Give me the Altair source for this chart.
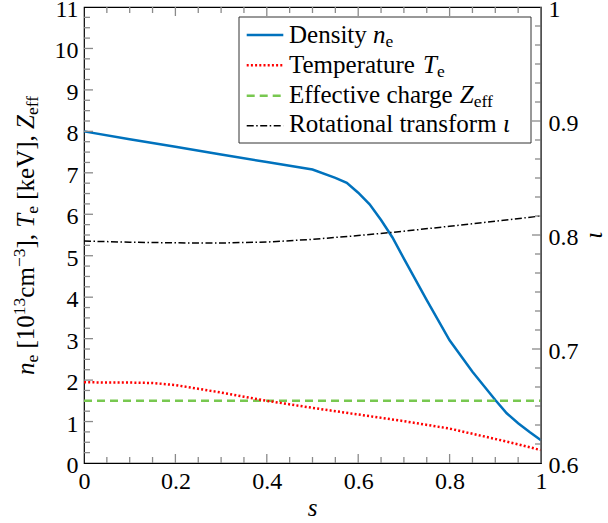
import altair as alt
import pandas as pd

# ---------------- profile data ----------------
s_ne = [0, 0.1, 0.2, 0.3, 0.4, 0.5, 0.55, 0.575, 0.6, 0.625, 0.65, 0.675, 0.7,
        0.75, 0.8, 0.85, 0.9, 0.925, 0.95, 0.975, 1.0]
ne = [8.0, 7.81, 7.63, 7.44, 7.26, 7.08, 6.88, 6.76, 6.52, 6.24, 5.86, 5.44, 4.93,
      3.93, 2.96, 2.2, 1.52, 1.2, 0.96, 0.75, 0.55]

s_te = [0, 0.05, 0.1, 0.15, 0.2, 0.25, 0.3, 0.35, 0.4, 0.5, 0.6, 0.7, 0.8, 0.9, 0.95, 1.0]
te = [1.95, 1.94, 1.94, 1.93, 1.88, 1.79, 1.70, 1.60, 1.50, 1.33, 1.17, 1.01, 0.83, 0.58, 0.45, 0.31]

s_zeff = [0, 1]
zeff = [1.5, 1.5]

s_iota = [0, 0.1, 0.2, 0.3, 0.4, 0.5, 0.6, 0.7, 0.8, 0.9, 1.0]
iota = [0.7947, 0.7937, 0.7931, 0.7930, 0.7938, 0.7962, 0.7995, 0.8033, 0.8077, 0.8121, 0.8167]

# tick positions
x_labels = [0, 0.2, 0.4, 0.6, 0.8, 1]
x_major = [0.2, 0.4, 0.6, 0.8]
x_minor = [k / 20 for k in range(1, 20) if k % 4 != 0]
yl_labels = list(range(12))
yl_major = list(range(1, 11))
yl_minor = [k / 4 for k in range(1, 44) if k % 4 != 0]
yr_labels = [0.6, 0.7, 0.8, 0.9, 1.0]
yr_major = [0.7, 0.8, 0.9]
yr_minor = [0.6 + k / 60 for k in range(1, 24) if k % 6 != 0]

# ---------------- layout / style ----------------
W, H = 457, 456
FONT = "Liberation Serif"
BIG, SMALL = 25, 17.5
TICK_FS = 24
MAJ, MIN = 9, 6
TICK_COLOR = "#8a8a8a"
BLUE, RED, GREEN = "#0072BD", "#FF0000", "#78C850"

xs = alt.Scale(domain=[0, 1], nice=False, zero=False)
ls = alt.Scale(domain=[0, 11], nice=False, zero=False)
rs = alt.Scale(domain=[0.6, 1.0], nice=False, zero=False)

label_style = dict(ticks=False, domain=False, grid=False, labelFont=FONT,
                   labelFontSize=TICK_FS, labelColor="black", labelFlush=False,
                   labelOverlap=False, title=None)

# one axis definition per scale, shared by every layer that uses the scale
x_axis = alt.Axis(values=x_labels, format=".1~f", labelPadding=6, **label_style)
yl_axis = alt.Axis(values=yl_labels, format="d", orient="left", labelPadding=6,
                   labelOffset=2.5, **label_style)
yr_axis = alt.Axis(values=yr_labels, format=".1~f", orient="right", labelPadding=7,
                   labelOffset=2.5, **label_style)

X = alt.X("s:Q", scale=xs, axis=x_axis)
YL = alt.Y("v:Q", scale=ls, axis=yl_axis)
YR = alt.Y("v:Q", scale=rs, axis=yr_axis)


def df(**cols):
    return pd.DataFrame(cols)


def xticks(vals, length):
    d = df(s=vals)
    bottom = alt.Chart(d).mark_rule(color=TICK_COLOR, strokeWidth=1.3).encode(
        x=X, y=alt.value(H), y2=alt.value(H - length))
    top = alt.Chart(d).mark_rule(color=TICK_COLOR, strokeWidth=1.3).encode(
        x=X, y=alt.value(0), y2=alt.value(length))
    return [bottom, top]


def lticks(vals, length):
    return alt.Chart(df(v=vals)).mark_rule(color=TICK_COLOR, strokeWidth=1.3).encode(
        y=YL, x=alt.value(0), x2=alt.value(length))


def rticks(vals, length):
    return alt.Chart(df(v=vals)).mark_rule(color=TICK_COLOR, strokeWidth=1.3).encode(
        y=YR, x=alt.value(W - length), x2=alt.value(W))


# ---------------- left-axis group ----------------
density = alt.Chart(df(s=s_ne, v=ne)).mark_line(color=BLUE, strokeWidth=2.5).encode(x=X, y=YL)
temperature = alt.Chart(df(s=s_te, v=te)).mark_line(
    color=RED, strokeWidth=2.5, strokeDash=[2, 2.2]).encode(x=X, y=YL)
charge = alt.Chart(df(s=s_zeff, v=zeff)).mark_line(
    color=GREEN, strokeWidth=2.5, strokeDash=[8, 5]).encode(x=X, y=YL)

left_group = alt.layer(
    density, *xticks(x_major, MAJ), *xticks(x_minor, MIN),
    lticks(yl_major, MAJ), lticks(yl_minor, MIN),
    charge, temperature)

# ---------------- right-axis group ----------------
rot = alt.Chart(df(s=s_iota, v=iota)).mark_line(
    color="black", strokeWidth=1.5, strokeDash=[7, 2.5, 1.5, 2.5]).encode(x=X, y=YR)
right_group = alt.layer(rot, rticks(yr_major, MAJ), rticks(yr_minor, MIN))

# ---------------- text with math-style pieces ----------------
REG = {' ': .25, '[': .333, ']': .333, ',': .25, '.': .25, '−': .564,
       'c': .444, 'm': .778, 'e': .444, 'k': .5, 'V': .722, 'D': .722, 'n': .5,
       's': .389, 'i': .278, 't': .278, 'y': .5, 'T': .611, 'p': .5, 'r': .333,
       'a': .444, 'u': .5, 'E': .611, 'f': .333, 'v': .5, 'h': .5, 'g': .5,
       'R': .667, 'o': .5, 'l': .278}
ITA = {'n': .5, 'T': .556, 'Z': .556, 's': .389, 'ι': .3}
SHIFT = {"rm": 0, "it": 0, "sub": 4, "sup": -9.5}


def width(txt, style):
    size = SMALL if style in ("sub", "sup") else BIG
    table = ITA if style == "it" else REG
    return sum(table.get(ch, .5) for ch in txt) * size


def place(pieces, x0, y0, vertical=False):
    rows, pos = [], 0.0
    for txt, style in pieces:
        lead = len(txt) - len(txt.lstrip(" "))
        trail = len(txt) - len(txt.rstrip(" "))
        core = txt.strip(" ")
        pos += lead * .25 * BIG
        layer = "sm" if style in ("sub", "sup") else style
        if vertical:
            rows.append(dict(x=x0 + SHIFT[style], y=y0 - pos, t=core, a=270, k=layer))
        else:
            rows.append(dict(x=x0 + pos, y=y0 + SHIFT[style], t=core, a=0, k=layer))
        pos += width(core, style) + trail * .25 * BIG
    return rows


LX = 205
texts = []
texts += place([("Density ", "rm"), ("n", "it"), ("e", "sub")], LX, 36.3)
texts += place([("Temperature ", "rm"), ("T", "it"), ("e", "sub")], LX, 65.7)
texts += place([("Effective charge ", "rm"), ("Z", "it"), ("eff", "sub")], LX, 95.7)
texts += place([("Rotational transform ", "rm"), ("ι", "it")], LX, 124.7)
texts += place([("n", "it"), ("e", "sub"), (" [10", "rm"), ("13", "sup"), ("cm", "rm"),
                ("−3", "sup"), ("], ", "rm"), ("T", "it"), ("e", "sub"),
                (" [keV], ", "rm"), ("Z", "it"), ("eff", "sub")], -50, 368, vertical=True)
texts += place([("s", "it")], W / 2 - width("s", "it") / 2, 509)
texts += place([("ι", "it")], 518, 228 + width("ι", "it") / 2, vertical=True)
text_df = pd.DataFrame(texts)


def text_layer(kind, **mark):
    return alt.Chart(text_df[text_df.k == kind]).mark_text(
        font=FONT, align="left", baseline="alphabetic", color="black", **mark).encode(
        x=alt.X("x:Q", scale=None), y=alt.Y("y:Q", scale=None),
        angle=alt.Angle("a:Q", scale=None), text="t:N")


# legend frame and line samples
legend_box = alt.Chart(df(d=[0])).mark_rect(fill="white", stroke="#333333", strokeWidth=1).encode(
    x=alt.value(155), x2=alt.value(447), y=alt.value(10), y2=alt.value(136))


def sample(yv, **mark):
    return alt.Chart(df(d=[0])).mark_rule(**mark).encode(
        x=alt.value(162.7), x2=alt.value(199.3), y=alt.value(yv), y2=alt.value(yv))


samples = [
    sample(28, color=BLUE, strokeWidth=2.5),
    sample(58.3, color=RED, strokeWidth=2.5, strokeDash=[2, 2.2]),
    sample(88.7, color=GREEN, strokeWidth=2.5, strokeDash=[8, 5]),
    sample(118.7, color="black", strokeWidth=1.5, strokeDash=[7, 2.5, 1.5, 2.5]),
]

right_edge = alt.Chart(df(d=[0])).mark_rule(color="#666666", strokeWidth=1.5).encode(
    x=alt.value(W), y=alt.value(0), y2=alt.value(H))

ann_group = alt.layer(
    right_edge, legend_box, *samples,
    text_layer("rm", fontSize=BIG),
    text_layer("it", fontSize=BIG, fontStyle="italic"),
    text_layer("sm", fontSize=SMALL))

chart = alt.layer(left_group, right_group, ann_group).resolve_scale(
    y="independent").properties(
    width=W, height=H,
    autosize=alt.AutoSizeParams(type="none"),
    padding={"left": 84, "top": 7, "right": 67, "bottom": 60},
    background="white",
).configure(font=FONT).configure_text(font=FONT).configure_axis(
    labelFont=FONT, titleFont=FONT
).configure_view(stroke="black", strokeWidth=1.2)

chart.save("out.html", embed_options={"renderer": "svg", "actions": False})
